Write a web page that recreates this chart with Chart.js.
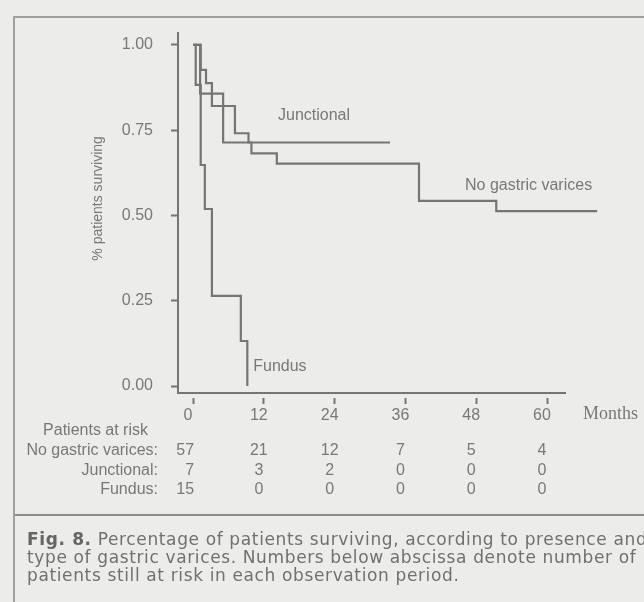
<!DOCTYPE html>
<html>
<head>
<meta charset="utf-8">
<script src="https://cdn.jsdelivr.net/npm/chart.js@4.4.0/dist/chart.umd.min.js"></script>
<style>
  html, body { margin:0; padding:0; background:#ececeb; width:644px; height:602px; overflow:hidden; }
  #wrap { position:relative; width:644px; height:602px; overflow:hidden; }
  #frame { position:absolute; left:13px; top:16px; width:660px; height:620px;
           border-left:2px solid #a0a0a0; border-top:2px solid #a0a0a0; }
  canvas { position:absolute; left:0; top:0; }
  #sep { position:absolute; left:15px; top:514px; width:640px; height:2px; background:#8c8c8c; }
  #cap { position:absolute; left:27px; top:530px; white-space:nowrap;
         font-family:"DejaVu Sans",sans-serif; font-size:17px; letter-spacing:0.63px;
         line-height:18px; color:#707070; }
  #cap b { color:#656565; }
</style>
</head>
<body>
<div id="wrap">
  <div id="frame"></div>
  <canvas id="c" width="644" height="602"></canvas>
  <div id="sep"></div>
  <div id="cap"><b>Fig. 8.</b> Percentage of patients surviving, according to presence and<br>type of gastric varices. Numbers below abscissa denote number of<br>patients still at risk in each observation period.</div>
</div>
<script>
// ---- data ----
const months = [0, 12, 24, 36, 48, 60];
const survivalTicks = [0, 0.25, 0.5, 0.75, 1];
const groups = ['No gastric varices', 'Junctional', 'Fundus'];

const ngvTime  = [0, 1.3, 2.2, 3.2, 7.1, 9.4, 9.9, 14.2, 38.3, 51.4, 68.5];
const ngvSurv  = [1, 0.927, 0.888, 0.821, 0.741, 0.714, 0.682, 0.652, 0.543, 0.513, 0.513];
const juncTime = [0, 1.2, 5.1, 33.4];
const juncSurv = [1, 0.857, 0.714, 0.714];
const fundTime = [0, 0.45, 1.3, 2.0, 3.2, 8.1, 9.2];
const fundSurv = [1, 0.883, 0.648, 0.519, 0.264, 0.132, 0];

const atRiskNgv  = [57, 21, 12, 7, 5, 4];
const atRiskJunc = [7, 3, 2, 0, 0, 0];
const atRiskFund = [15, 0, 0, 0, 0, 0];

// ---- styling ----
const LINE = '#757575';
const TEXT = '#787878';
const FONT = '"Liberation Sans", Arial, sans-serif';
Chart.defaults.font.family = FONT;

const toPts = (ts, vs) => ts.map((t, i) => ({ x: t, y: vs[i] }));
const lineStyle = { borderColor: LINE, borderWidth: 2.2, pointRadius: 0, stepped: 'before', clip: false, fill: false };

const curveLabels = [
  { text: groups[1], t: 14.4, s: 0.792 },
  { text: groups[0], t: 46.1, s: 0.587 },
  { text: groups[2], t: 10.2, s: 0.056 }
];

const overlay = {
  id: 'overlay',
  afterDraw(chart) {
    const { ctx, chartArea: ca, scales: { x, y } } = chart;
    ctx.save();
    ctx.fillStyle = TEXT;
    ctx.textBaseline = 'middle';

    // y-axis title
    ctx.save();
    ctx.translate(ca.left - 80, y.getPixelForValue(0.55));
    ctx.rotate(-Math.PI / 2);
    ctx.textAlign = 'center';
    ctx.font = '14px ' + FONT;
    ctx.fillText('% patients surviving', 0, 0);
    ctx.restore();

    // "Months"
    ctx.font = '18px "Liberation Serif", "Times New Roman", serif';
    ctx.textAlign = 'left';
    ctx.fillText('Months', ca.right + 18, ca.bottom + 21);

    // curve labels
    ctx.font = '16px ' + FONT;
    curveLabels.forEach(l => ctx.fillText(l.text, x.getPixelForValue(l.t), y.getPixelForValue(l.s)));

    // at-risk table
    const rows = [[groups[0] + ':', atRiskNgv], [groups[1] + ':', atRiskJunc], [groups[2] + ':', atRiskFund]];
    ctx.textAlign = 'right';
    ctx.fillText('Patients at risk', ca.left - 30, ca.bottom + 38);
    rows.forEach((r, i) => {
      const yy = ca.bottom + 58 + i * 19.3;
      ctx.textAlign = 'right';
      ctx.fillText(r[0], ca.left - 20, yy);
      r[1].forEach((n, j) => {
        const px = x.getPixelForValue(months[j]);
        if (j === 0) { ctx.textAlign = 'right'; ctx.fillText(String(n), px + 1, yy); }
        else { ctx.textAlign = 'center'; ctx.fillText(String(n), px - 5, yy); }
      });
    });
    ctx.restore();
  }
};

new Chart(document.getElementById('c'), {
  type: 'line',
  data: {
    datasets: [
      Object.assign({ label: groups[0], data: toPts(ngvTime, ngvSurv) }, lineStyle),
      Object.assign({ label: groups[1], data: toPts(juncTime, juncSurv) }, lineStyle),
      Object.assign({ label: groups[2], data: toPts(fundTime, fundSurv) }, lineStyle)
    ]
  },
  options: {
    responsive: false,
    animation: false,
    layout: { padding: { left: 0, right: 79, top: 33, bottom: 169 } },
    plugins: { legend: { display: false }, tooltip: { enabled: false }, title: { display: false } },
    scales: {
      x: {
        type: 'linear', min: -2.55, max: 63.05,
        afterBuildTicks: s => { s.ticks = months.map(v => ({ value: v })); },
        afterFit: s => { s.height = 40; },
        border: { display: true, color: LINE, width: 2 },
        grid: { drawOnChartArea: false, drawTicks: true, tickLength: 11, tickWidth: 2, tickColor: LINE, tickBorderDash: [0, 4, 7, 40] },
        ticks: { font: { size: 16 }, color: TEXT, padding: 2, labelOffset: -5, maxRotation: 0, autoSkip: false }
      },
      y: {
        min: -0.0205, max: 1.035,
        afterBuildTicks: s => { s.ticks = survivalTicks.map(v => ({ value: v })); },
        afterFit: s => { s.width = 178; },
        border: { display: true, color: LINE, width: 2 },
        grid: { drawOnChartArea: false, drawTicks: true, tickLength: 7, tickWidth: 2, tickColor: LINE },
        ticks: { font: { size: 16 }, color: TEXT, padding: 18, callback: v => Number(v).toFixed(2) }
      }
    }
  },
  plugins: [overlay]
});
</script>
</body>
</html>
